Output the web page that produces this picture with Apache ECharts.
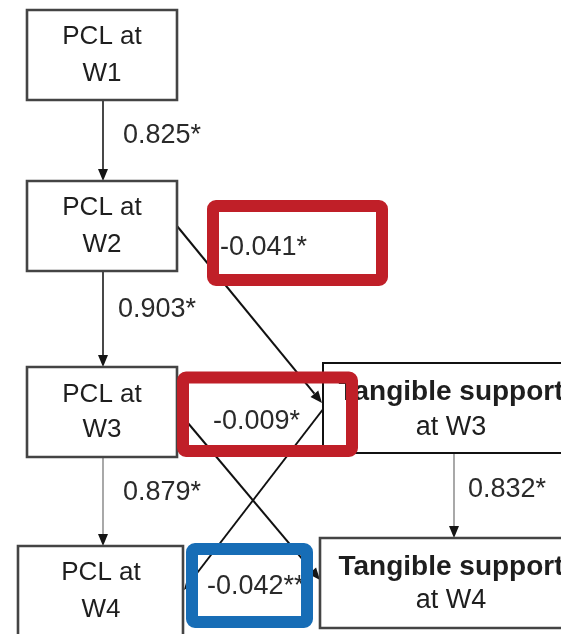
<!DOCTYPE html>
<html><head><meta charset="utf-8">
<script src="https://cdn.jsdelivr.net/npm/echarts@6/dist/echarts.min.js"></script>
<style>html,body{margin:0;padding:0;background:#fff}#c{width:561px;height:634px}</style>
</head><body><div id="c"></div>
<script>
// ---- data ----
const nodeIds   = ['pclW1','pclW2','pclW3','pclW4','tanW3','tanW4'];
const nodeLine1 = ['PCL at','PCL at','PCL at','PCL at','Tangible support','Tangible support'];
const nodeLine2 = ['W1','W2','W3','W4','at W3','at W4'];
const pathFrom  = ['pclW1','pclW2','pclW3','tanW3','pclW2','pclW3','tanW3'];
const pathTo    = ['pclW2','pclW3','pclW4','tanW4','tanW3','tanW4','pclW4'];
const pathCoef  = ['0.825*','0.903*','0.879*','0.832*','-0.041*','-0.009*','-0.042**'];
const highlightRed  = ['-0.041*','-0.009*'];
const highlightBlue = ['-0.042**'];

// ---- layout (positions in diagram units) ----
const boxLayout = {
  pclW1:[27,10,150,90], pclW2:[27,181,150,90], pclW3:[27,367,150,90],
  pclW4:[18,546,165,110], tanW3:[323,363,262,90], tanW4:[320,538,265,90]
};
const textLayout = {
  pclW1:[102,37,74], pclW2:[102,208,245], pclW3:[102,395,430],
  pclW4:[101,573,610], tanW3:[451,392,428], tanW4:[451,567,601]
};
const edgeLayout = [
  [[103,100],[103,181]],
  [[103,271],[103,367]],
  [[103,457],[103,546]],
  [[454,453],[454,538]],
  [[177,226],[322,403]],
  [[177,410],[320,580]],
  [[324,408],[184,590]]
];
const edgeStyle = [
  ['#1a1a1a',1.6],['#1a1a1a',1.6],['#7a7a7a',1.3],['#7a7a7a',1.3],
  ['#111',2],['#111',2],['#111',2]
];
const coefLayout = [[123,136],[118,310],[123,493],[468,490],[220,248],[213,422],[207,587]];
const hlLayout = {'-0.041*':[213,206,169,74], '-0.009*':[183,377.5,169,73.5], '-0.042**':[192,549,115,73]};

const FONT = '"Liberation Sans", Arial, sans-serif';
const chart = echarts.init(document.getElementById('c'));

function edgeRender(params, api){
  const i = api.value(0);
  const a = api.coord(edgeLayout[i][0]), b = api.coord(edgeLayout[i][1]);
  const dx = b[0]-a[0], dy = b[1]-a[1], L = Math.hypot(dx,dy);
  const ux = dx/L, uy = dy/L, hl = 12, hw = 5;
  const bx = b[0]-ux*hl, by = b[1]-uy*hl;
  const col = edgeStyle[i][0];
  return {type:'group', children:[
    {type:'line', shape:{x1:a[0],y1:a[1],x2:bx,y2:by}, style:{stroke:col,lineWidth:edgeStyle[i][1]}},
    {type:'polygon', shape:{points:[[b[0],b[1]],[bx-uy*hw,by+ux*hw],[bx+uy*hw,by-ux*hw]]}, style:{fill:'#151515'}}
  ]};
}
function boxRender(params, api){
  const i = api.value(0), id = nodeIds[i], r = boxLayout[id], t = textLayout[id];
  const p = api.coord([r[0],r[1]]), s = api.size([r[2],r[3]]);
  const q1 = api.coord([t[0],t[1]]), q2 = api.coord([t[0],t[2]]);
  const isT = id.indexOf('tan')===0;
  return {type:'group', children:[
    {type:'rect', shape:{x:p[0],y:p[1],width:s[0],height:s[1]},
     style:{fill:'#fff', stroke: id==='tanW3' ? '#111' : '#444', lineWidth: id==='tanW3' ? 2 : 2.6}},
    {type:'text', style:{text:nodeLine1[i], x:q1[0], y:q1[1], align:'center', verticalAlign:'middle',
      font:(isT?'bold 28px ':'26px ')+FONT, fill:'#1e1e1e'}},
    {type:'text', style:{text:nodeLine2[i], x:q2[0], y:q2[1], align:'center', verticalAlign:'middle',
      font:(isT?'27px ':'26px ')+FONT, fill:'#1e1e1e'}}
  ]};
}
function coefRender(params, api){
  const i = api.value(0), c = api.coord(coefLayout[i]);
  return {type:'text', style:{text:pathCoef[i], x:c[0], y:c[1], align:'left', verticalAlign:'middle',
    font:'27px '+FONT, fill:'#2a2a2a'}};
}
function hlRender(params, api){
  const i = api.value(0), key = pathCoef[i];
  const isRed = highlightRed.indexOf(key)>=0, isBlue = highlightBlue.indexOf(key)>=0;
  if(!isRed && !isBlue) return null;
  const r = hlLayout[key], p = api.coord([r[0],r[1]]), s = api.size([r[2],r[3]]);
  return {type:'rect', shape:{x:p[0],y:p[1],width:s[0],height:s[1],r:3},
    style:{fill:null, stroke: isRed ? '#c01f28' : '#176db6', lineWidth:12}};
}
const idx = n => Array.from({length:n},(_,k)=>[k,0]);
chart.setOption({
  animation:false,
  grid:{left:0,right:0,top:0,bottom:0},
  xAxis:{type:'value',min:0,max:561,show:false},
  yAxis:{type:'value',min:0,max:634,inverse:true,show:false},
  series:[
    {type:'custom', renderItem:edgeRender, data:idx(pathCoef.length), silent:true, z:1},
    {type:'custom', renderItem:boxRender, data:idx(nodeIds.length), silent:true, z:2},
    {type:'custom', renderItem:coefRender, data:idx(pathCoef.length), silent:true, z:3},
    {type:'custom', renderItem:hlRender, data:idx(pathCoef.length), silent:true, z:4}
  ]
});
</script></body></html>
